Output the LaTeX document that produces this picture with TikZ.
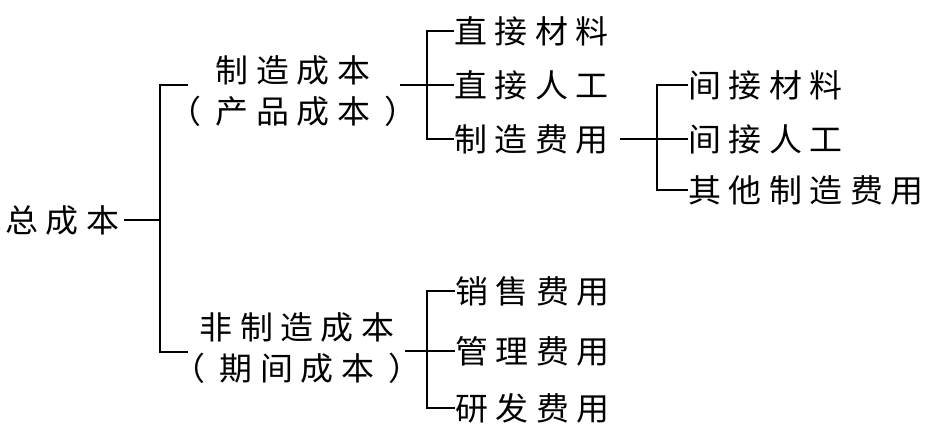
\documentclass[tikz,border=0pt]{standalone}
\usepackage{fontspec}
\newfontfamily\cjk[FakeStretch=1.03]{Noto Sans CJK SC}
\makeatletter
\newcommand\sptext[1]{\def\sp@first{1}\@tfor\sp@c:=#1\do{\ifx\sp@first\empty\hspace{7.5pt}\fi\sp@c\let\sp@first\empty}}
\makeatother
\newcommand\paren[1]{（\hspace{14pt}\sptext{#1}\hspace{14pt}）}
\tikzset{
  lbl/.style={inner sep=0pt, font=\cjk\fontsize{32pt}{38pt}\selectfont},
  leaf/.style={lbl, anchor=west},
  conn/.style={line width=2.7pt}
}
\begin{document}
\begin{tikzpicture}[x=1pt,y=-1pt]
\fill[white] (0,0) rectangle (933,431);
\useasboundingbox (0,0) rectangle (933,431);
% nodes
\node[leaf] (total) at (5,220) {\sptext{总成本}};
\node[lbl] (mfgA) at (293,70) {\sptext{制造成本}};
\node[lbl] (mfgB) at (293,111) {\paren{产品成本}};
\node[lbl] (nonA) at (297,327) {\sptext{非制造成本}};
\node[lbl] (nonB) at (297,368) {\paren{期间成本}};
\node[leaf] (dm) at (454,31) {\sptext{直接材料}};
\node[leaf] (dl) at (454,85) {\sptext{直接人工}};
\node[leaf] (moh) at (454,139) {\sptext{制造费用}};
\node[leaf] (im) at (688,85) {\sptext{间接材料}};
\node[leaf] (il) at (688,139) {\sptext{间接人工}};
\node[leaf] (om) at (688,190) {\sptext{其他制造费用}};
\node[leaf] (sell) at (455,291) {\sptext{销售费用}};
\node[leaf] (adm) at (455,351) {\sptext{管理费用}};
\node[leaf] (rd) at (455,408) {\sptext{研发费用}};
% junctions
\coordinate (Aj) at (160,220);
\coordinate (A1) at (188,85);
\coordinate (A2) at (188,352);
\coordinate (Bin) at (400,85);
\coordinate (Bj) at (427,85);
\coordinate (Cj) at (657,139);
\coordinate (Din) at (405,351);
\coordinate (Dj) at (427,351);
% connectors
\draw[conn] ([xshift=5pt]total.east) -- (Aj);
\draw[conn] (A1) -| (Aj) |- (A2);
\draw[conn] (Bin) -- (dl.west);
\draw[conn] (dm.west) -| (Bj) |- (moh.west);
\draw[conn] ([xshift=11pt]moh.east) -- (il.west);
\draw[conn] (im.west) -| (Cj) |- (om.west);
\draw[conn] (Din) -- (adm.west);
\draw[conn] (sell.west) -| (Dj) |- (rd.west);
\end{tikzpicture}
\end{document}
